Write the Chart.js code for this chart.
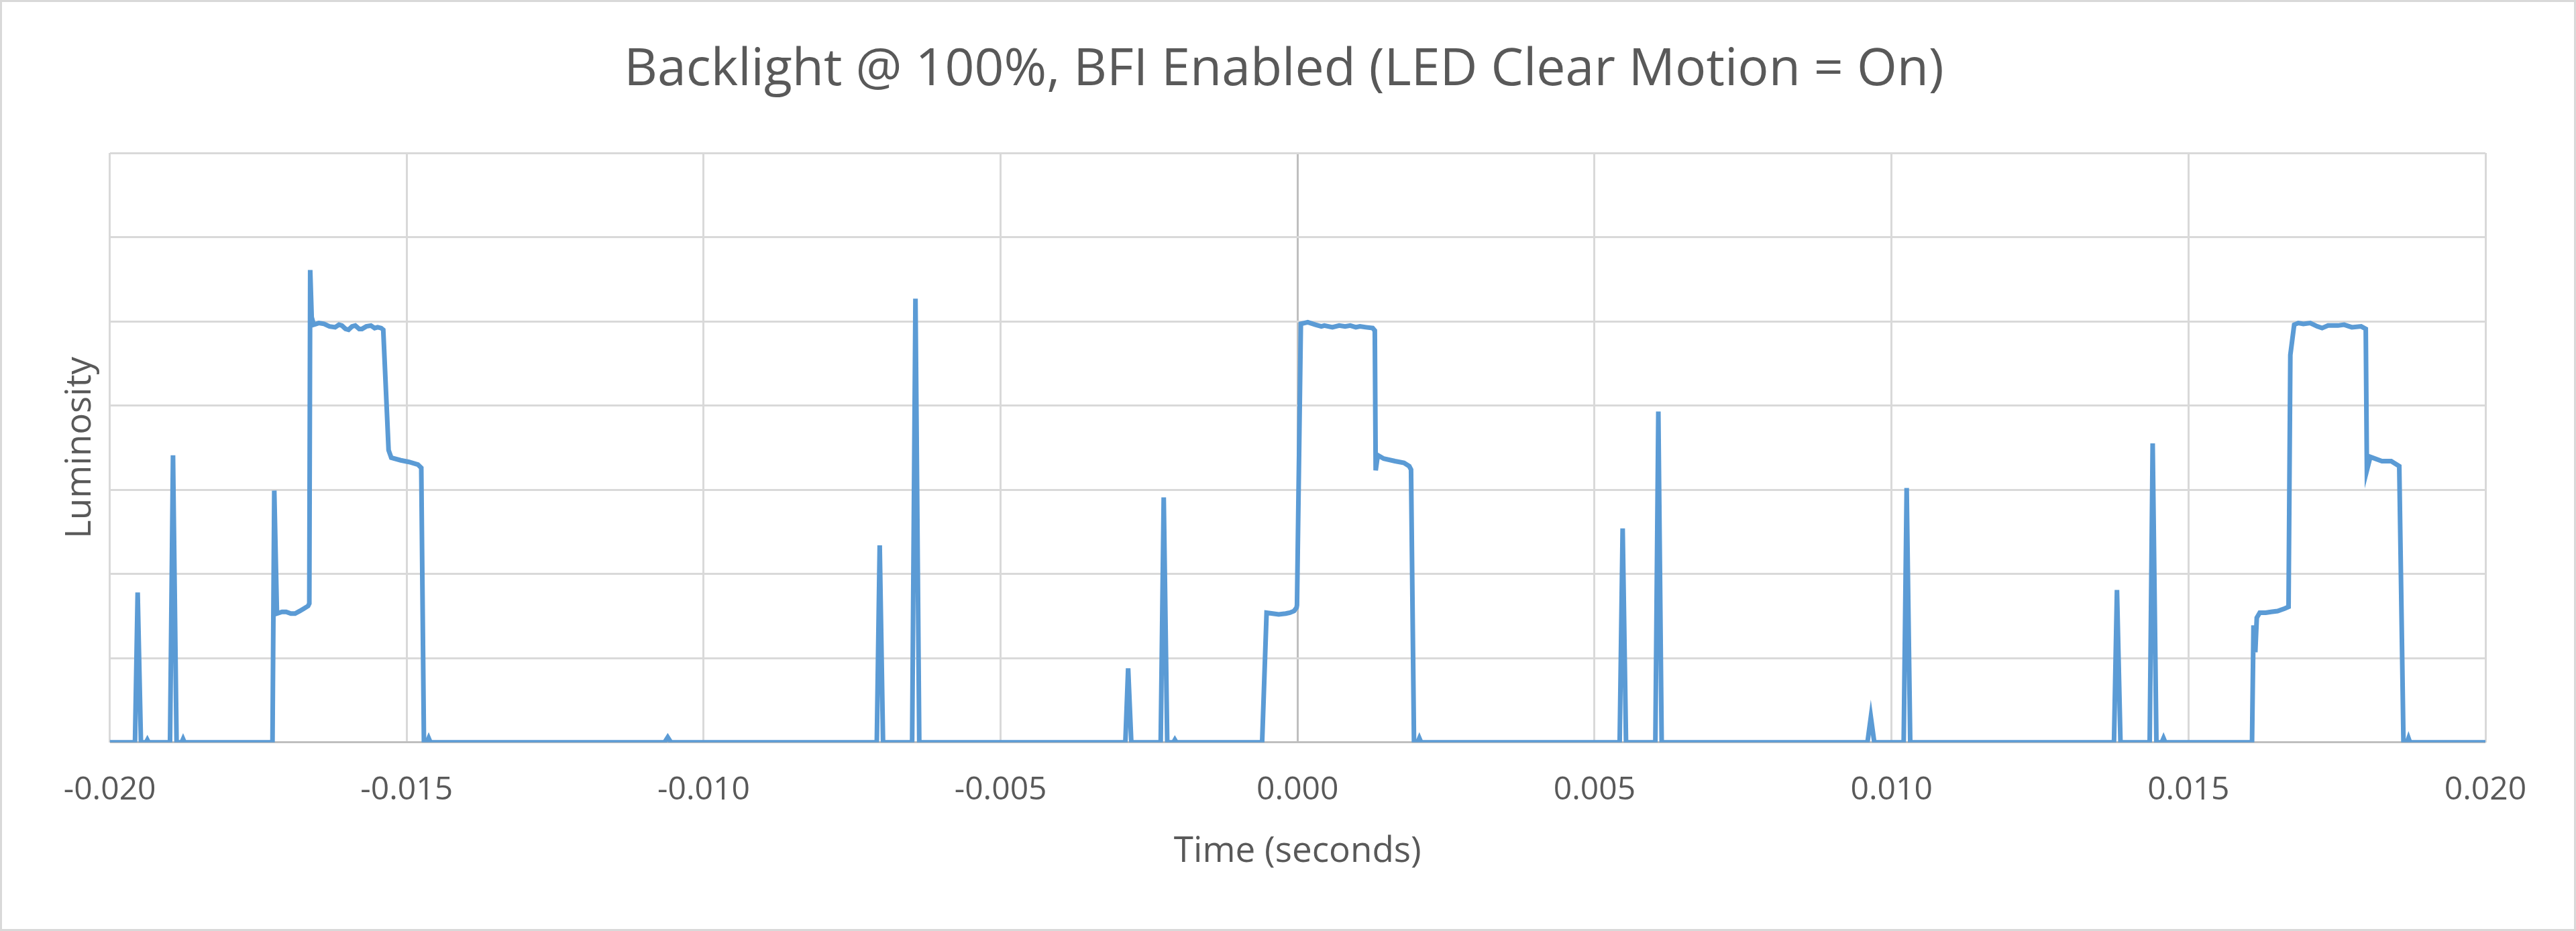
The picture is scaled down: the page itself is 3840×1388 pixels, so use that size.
<!DOCTYPE html>
<html>
<head>
<meta charset="utf-8">
<title>Backlight @ 100%, BFI Enabled</title>
<script src="https://cdn.jsdelivr.net/npm/chart.js@4.4.0/dist/chart.umd.min.js"></script>
<style>
  html, body { margin: 0; padding: 0; background: #fff; }
  #wrap { position: relative; width: 3840px; height: 1388px; box-sizing: border-box; border: 3px solid #d9d9d9; background: #fff; }
  #box { position: absolute; left: 0; top: 0; }
  #title { position: absolute; top: 56px; left: -12px; right: 0; text-align: center; font-family: "Open Sans", sans-serif; font-size: 77px; line-height: 1; color: #595959; white-space: nowrap; }
</style>
</head>
<body>
<div id="wrap">
  <div id="box"><canvas id="myChart" width="3834" height="1382"></canvas></div>
  <div id="title">Backlight @ 100%, BFI Enabled (LED Clear Motion = On)</div>
</div>
<script>
// x tick values (seconds)
var xTicks = [-0.020, -0.015, -0.010, -0.005, 0.000, 0.005, 0.010, 0.015, 0.020];

// sample times (seconds)
var timeSec = [
  -0.020000, -0.019575, -0.019530, -0.019475, -0.019390, -0.019367, -0.019345,
  -0.018985, -0.018935, -0.018875, -0.018790, -0.018765, -0.018740,
  -0.017260, -0.017230, -0.017185, -0.017100, -0.017030, -0.016950, -0.016880,
  -0.016800, -0.016730, -0.016660, -0.016640, -0.016625, -0.016600, -0.016565,
  -0.016480, -0.016393, -0.016300, -0.016205, -0.016140, -0.016091, -0.016030,
  -0.015979, -0.015920, -0.015866, -0.015800, -0.015753, -0.015680, -0.015602,
  -0.015540, -0.015489, -0.015430, -0.015395, -0.015305, -0.015260, -0.015100,
  -0.014962, -0.014812, -0.014755, -0.014710, -0.014660, -0.014630, -0.014600,
  -0.010660, -0.010605, -0.010550,
  -0.007085, -0.007036, -0.006980,
  -0.006490, -0.006434, -0.006370,
  -0.002900, -0.002853, -0.002800,
  -0.002305, -0.002254, -0.002195, -0.002090, -0.002066, -0.002040,
  -0.000597, -0.000522, -0.000420, -0.000318, -0.000200, -0.000130, -0.000060,
  -0.000017, -0.000010, 0.000055, 0.000172, 0.000300, 0.000400, 0.000450,
  0.000586, 0.000700, 0.000800, 0.000887, 0.000980, 0.001050, 0.001150,
  0.001264, 0.001300, 0.001315, 0.001350, 0.001450, 0.001640, 0.001791,
  0.001880, 0.001910, 0.001960, 0.002020, 0.002050, 0.002080,
  0.005423, 0.005473, 0.005530,
  0.006024, 0.006074, 0.006130,
  0.009595, 0.009652, 0.009710,
  0.010205, 0.010255, 0.010315,
  0.013746, 0.013796, 0.013855,
  0.014347, 0.014397, 0.014460, 0.014550, 0.014580, 0.014610,
  0.016070, 0.016095, 0.016125, 0.016150, 0.016200, 0.016300, 0.016390,
  0.016500, 0.016620, 0.016685, 0.016715, 0.016780, 0.016850, 0.016934,
  0.017050, 0.017167, 0.017250, 0.017350, 0.017517, 0.017620, 0.017751,
  0.017907, 0.017985, 0.018004, 0.018062, 0.018257, 0.018413, 0.018549,
  0.018620, 0.018680, 0.018705, 0.018730, 0.020000
];

// luminosity (arbitrary units, 0-70)
var luminosity = [
  0, 0, 17.8, 0, 0, 0.3, 0,
  0, 34.1, 0, 0, 0.4, 0,
  0, 29.9, 15.3, 15.5, 15.5, 15.3, 15.3,
  15.6, 15.9, 16.2, 16.5, 56.1, 50.5, 49.6,
  49.8, 49.7, 49.4, 49.3, 49.6, 49.5, 49.1,
  49.0, 49.4, 49.5, 49.1, 49.1, 49.4, 49.5,
  49.2, 49.3, 49.2, 49.0, 34.7, 33.8, 33.5,
  33.3, 33.0, 32.6, 0, 0, 0.5, 0,
  0, 0.6, 0,
  0, 23.4, 0,
  0, 52.7, 0,
  0, 8.8, 0,
  0, 29.1, 0, 0, 0.3, 0,
  0, 15.4, 15.3, 15.2, 15.3, 15.4, 15.6,
  16.0, 16.3, 49.7, 49.9, 49.6, 49.4, 49.5,
  49.3, 49.5, 49.4, 49.5, 49.3, 49.4, 49.3,
  49.2, 48.9, 32.3, 34.1, 33.7, 33.4, 33.2,
  32.8, 32.4, 0, 0, 0.5, 0,
  0, 25.4, 0,
  0, 39.3, 0,
  0, 3.0, 0,
  0, 30.2, 0,
  0, 18.1, 0,
  0, 35.5, 0, 0, 0.5, 0,
  0, 13.9, 10.7, 14.8, 15.4, 15.4, 15.5,
  15.6, 15.9, 16.1, 46.0, 49.6, 49.8, 49.7,
  49.8, 49.4, 49.2, 49.5, 49.5, 49.6, 49.3,
  49.4, 49.1, 32.3, 33.9, 33.4, 33.4, 32.8,
  0, 0, 0.5, 0, 0
];

var points = timeSec.map((t, i) => ({ x: t, y: luminosity[i] }));

var textColor = "#595959";
var gridColor = (c) => (c.tick && Math.abs(c.tick.value) < 1e-9 ? "#bfbfbf" : "#d9d9d9");

var ctx = document.getElementById("myChart").getContext("2d");

var myChart = new Chart(ctx, {
  type: "line",
  data: {
    datasets: [{
      label: "Luminosity",
      data: points,
      borderColor: "#5b9bd5",
      backgroundColor: "#5b9bd5",
      borderWidth: 7,
      pointRadius: 0,
      tension: 0,
      fill: false
    }]
  },
  options: {
    responsive: false,
    animation: false,
    events: [],
    layout: {
      padding: { left: 0, right: 132, top: 225, bottom: 0 }
    },
    plugins: {
      legend: { display: false },
      tooltip: { enabled: false }
    },
    scales: {
      x: {
        type: "linear",
        min: -0.02,
        max: 0.02,
        afterBuildTicks: (scale) => {
          scale.ticks = xTicks.map(v => ({ value: v }));
        },
        ticks: {
          padding: 43,
          color: textColor,
          maxRotation: 0,
          autoSkip: false,
          font: { family: "Open Sans", size: 48, lineHeight: 1.2 },
          callback: (v) => Number(v).toFixed(3)
        },
        grid: { color: gridColor, lineWidth: 3, drawTicks: false },
        border: { display: false },
        title: {
          display: true,
          text: "Time (seconds)",
          color: textColor,
          font: { family: "Open Sans", size: 53, lineHeight: 1.2 },
          padding: { top: -12, bottom: 83 }
        }
      },
      y: {
        min: 0,
        max: 70,
        ticks: { display: false, stepSize: 10 },
        grid: { color: gridColor, lineWidth: 3, drawTicks: false },
        border: { display: false },
        title: {
          display: true,
          text: "Luminosity",
          color: textColor,
          font: { family: "Open Sans", size: 53, lineHeight: 1.2 },
          padding: { top: 85, bottom: 12 }
        }
      }
    }
  }
});
</script>
</body>
</html>
